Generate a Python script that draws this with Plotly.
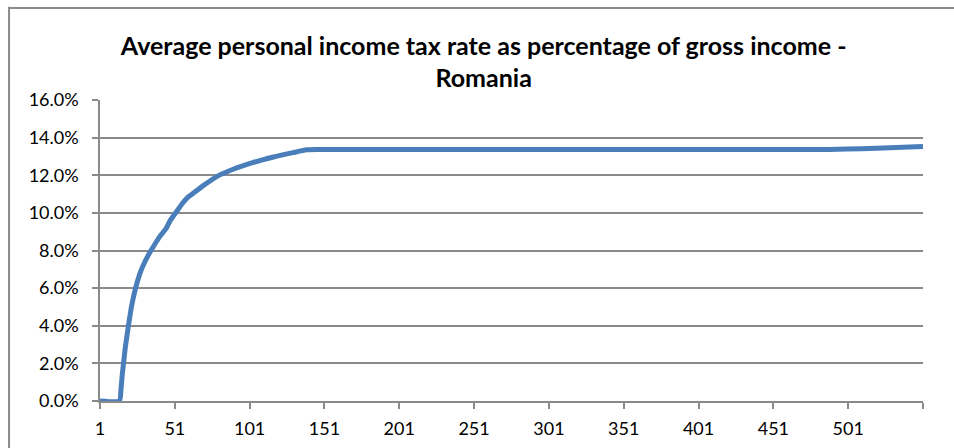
import plotly.graph_objects as go

# Income step (category index) and average tax rate as a share of gross income
income_step = [1, 14, 15, 16, 17, 18, 20, 22, 24, 26, 28, 31, 34, 37, 41, 45, 48, 52,
               56, 60, 65, 70, 79, 90, 103, 117, 130, 139, 146, 200, 300, 400, 489,
               500, 520, 551]
avg_tax_rate = [0.0, 0.0, 0.006, 0.015, 0.022, 0.029, 0.040, 0.050, 0.0575, 0.0635,
                0.0685, 0.074, 0.0785, 0.0825, 0.0875, 0.0915, 0.096, 0.1005,
                0.105, 0.1085, 0.1115, 0.1145, 0.1193, 0.1232, 0.1267, 0.1297,
                0.1320, 0.1335, 0.1337, 0.1337, 0.1337, 0.1337, 0.1337,
                0.1339, 0.1344, 0.1353]

x_tick_vals = [1, 51, 101, 151, 201, 251, 301, 351, 401, 451, 501, 551]
x_tick_text = ["1", "51", "101", "151", "201", "251", "301", "351", "401", "451", "501", ""]
y_tick_vals = [0.0, 0.02, 0.04, 0.06, 0.08, 0.10, 0.12, 0.14, 0.16]

title_text = ("Average personal income tax rate as percentage of gross income -"
              "<br>Romania")

GRID = "#8a8a8a"
FONT = "Lato, 'Open Sans', sans-serif"

fig = go.Figure()
fig.add_trace(go.Scatter(
    x=income_step, y=avg_tax_rate, mode="lines",
    line=dict(color="#4A7EBB", width=5, shape="spline", smoothing=0.5),
    hoverinfo="x+y",
    showlegend=False,
))

# Chart-area border (top and left edges)
for x0, y0, x1, y1 in [(-0.111, 1.3056, 1.1, 1.3056), (-0.1105, 1.31, -0.1105, -0.2)]:
    fig.add_shape(type="line", xref="paper", yref="paper",
                  x0=x0, y0=y0, x1=x1, y1=y1,
                  line=dict(color=GRID, width=2))

fig.update_layout(
    width=954, height=448,
    margin=dict(l=100, r=31, t=100, b=47),
    paper_bgcolor="white", plot_bgcolor="white",
    font=dict(family=FONT, size=18, color="#000000"),
    title=dict(
        text=title_text,
        x=0.507, xanchor="center", xref="container",
        y=0.878, yanchor="top", yref="container",
        font=dict(family=FONT, size=25, color="#000000", weight="bold"),
    ),
    xaxis=dict(
        range=[1, 551],
        tickmode="array", tickvals=x_tick_vals, ticktext=x_tick_text,
        ticks="outside", ticklen=6, tickwidth=1.5, tickcolor=GRID,
        showline=True, linecolor=GRID, linewidth=1.5,
        showgrid=False, zeroline=False,
        ticklabelstandoff=5, automargin=False,
    ),
    yaxis=dict(
        range=[0, 0.16],
        tickmode="array", tickvals=y_tick_vals, tickformat=".1%",
        ticks="outside", ticklen=6, tickwidth=1.5, tickcolor=GRID,
        showline=True, linecolor=GRID, linewidth=1.5,
        showgrid=True, gridcolor=GRID, gridwidth=1.5,
        zeroline=False,
        ticklabelstandoff=10, automargin=False,
    ),
)

fig.write_html("out.html")
